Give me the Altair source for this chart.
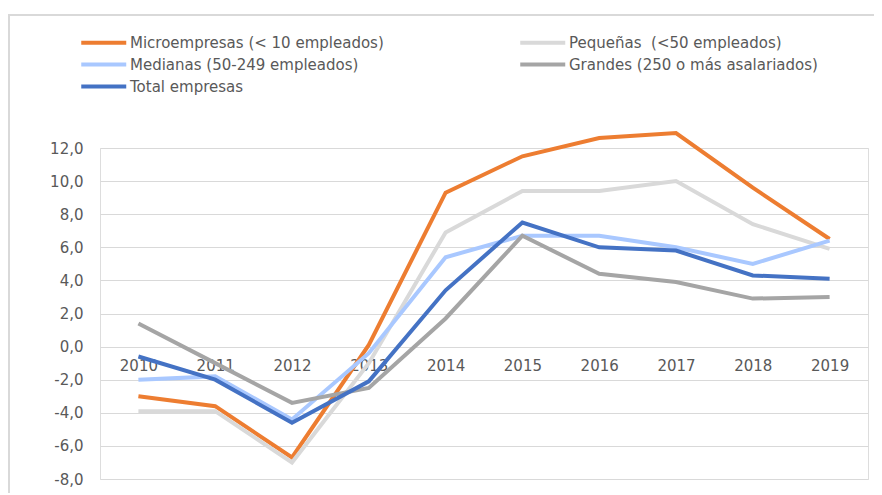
import altair as alt
import pandas as pd

years = ["2010", "2011", "2012", "2013", "2014", "2015", "2016", "2017", "2018", "2019"]
series_names = [
    "Microempresas (< 10 empleados)",
    "Pequeñas\u00a0 (<50 empleados)",
    "Medianas (50-249 empleados)",
    "Grandes (250 o más asalariados)",
    "Total empresas",
]
micro = [-3.0, -3.6, -6.7, 0.1, 9.3, 11.5, 12.6, 12.9, 9.6, 6.5]
pequenas = [-3.9, -3.9, -7.0, -1.0, 6.9, 9.4, 9.4, 10.0, 7.4, 5.9]
medianas = [-2.0, -1.8, -4.4, -0.4, 5.4, 6.7, 6.7, 6.0, 5.0, 6.4]
grandes = [1.4, -1.0, -3.4, -2.5, 1.7, 6.7, 4.4, 3.9, 2.9, 3.0]
total = [-0.6, -2.0, -4.6, -2.1, 3.4, 7.5, 6.0, 5.8, 4.3, 4.1]
colors = ["#ED7D31", "#D9D9D9", "#A9C8FF", "#A5A5A5", "#4472C4"]
y_ticks = [-8, -6, -4, -2, 0, 2, 4, 6, 8, 10, 12]

# legend is filled column by column: order the entries so the grid reads
# row 1: Micro | Pequeñas, row 2: Medianas | Grandes, row 3: Total
legend_order = [0, 2, 4, 1, 3]
legend_names = [series_names[i] for i in legend_order]
legend_colors = [colors[i] for i in legend_order]

rows = []
for order, (name, vals) in enumerate(zip(series_names, [micro, pequenas, medianas, grandes, total])):
    for yr, v in zip(years, vals):
        rows.append({"year": yr, "value": v, "serie": name, "order": order})
df = pd.DataFrame(rows)

W, H = 768, 331

lines = alt.Chart(df).mark_line(strokeWidth=4, strokeCap="butt", strokeJoin="miter").encode(
    x=alt.X("year:O", sort=years, title=None,
            scale=alt.Scale(type="point", padding=0.5),
            axis=alt.Axis(orient="bottom", offset=-132, domain=False, ticks=False, grid=False,
                          labelAngle=0, labelFont="DejaVu Sans", labelFontSize=15,
                          labelColor="#595959", labelPadding=11)),
    y=alt.Y("value:Q", title=None,
            scale=alt.Scale(domain=[-8, 12], nice=False, zero=False),
            axis=alt.Axis(values=y_ticks, domain=False, ticks=False, grid=True,
                          gridColor="#D9D9D9", gridWidth=1,
                          labelExpr="(datum.value < 0 ? '-' : '') + replace(format(abs(datum.value), '.1f'), '.', ',')",
                          labelFont="DejaVu Sans", labelFontSize=15, labelColor="#595959",
                          labelPadding=17)),
    color=alt.Color("serie:N", sort=legend_names, title=None,
                    scale=alt.Scale(domain=legend_names, range=legend_colors),
                    legend=alt.Legend(orient="none", legendX=-21, legendY=-119, columns=2,
                                      symbolType="M-1,0L3,0", symbolStrokeWidth=4, symbolSize=506,
                                      labelFont="DejaVu Sans", labelFontSize=15, labelLimit=400,
                                      labelColor="#595959", labelOffset=24, rowPadding=0,
                                      columnPadding=128, gridAlign="each")),
    order=alt.Order("order:Q"),
    detail="serie:N",
)

frame_top = alt.Chart(pd.DataFrame({"a": [0]})).mark_rule(color="#D9D9D9", strokeWidth=2).encode(
    x=alt.value(-92), x2=alt.value(W + 10), y=alt.value(-133)
)
frame_left = alt.Chart(pd.DataFrame({"a": [0]})).mark_rule(color="#D9D9D9", strokeWidth=2).encode(
    x=alt.value(-91), y=alt.value(-133), y2=alt.value(H + 20)
)

chart = alt.layer(frame_top, frame_left, lines).properties(
    width=W, height=H,
    autosize=alt.AutoSizeParams(type="none"),
    padding={"left": 92, "top": 140, "right": 6, "bottom": 14},
).configure_view(stroke=None).configure(background="white")

chart.save("out.html", embed_options={"renderer": "svg", "actions": False})
